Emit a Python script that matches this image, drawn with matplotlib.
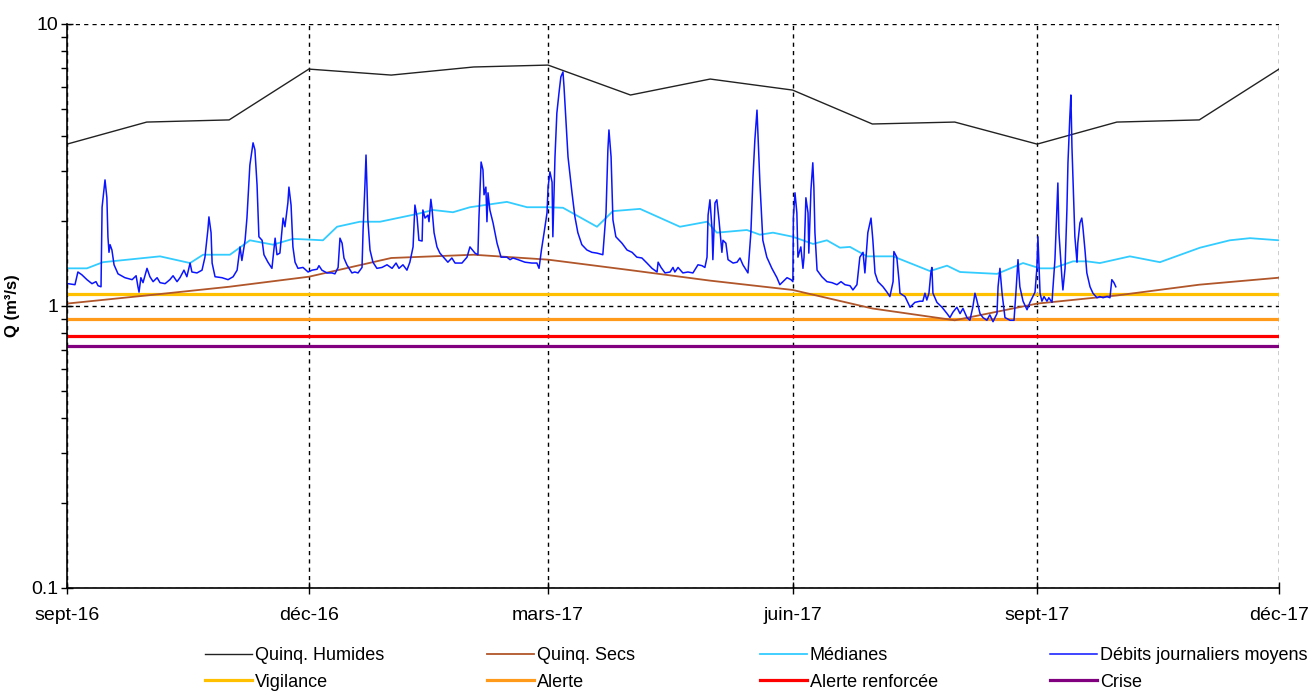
import matplotlib
matplotlib.use('Agg')
import matplotlib.pyplot as plt
import matplotlib.dates as mdates
from matplotlib.ticker import FixedLocator, FixedFormatter, LogLocator, NullFormatter
import numpy as np

plt.rcParams['font.family'] = ['Liberation Sans', 'DejaVu Sans']

# ---------------- data ----------------
start_date = '2016-09-01'
month_dates = ['2016-09-01', '2016-10-01', '2016-11-01', '2016-12-01', '2017-01-01',
               '2017-02-01', '2017-03-01', '2017-04-01', '2017-05-01', '2017-06-01',
               '2017-07-01', '2017-08-01', '2017-09-01', '2017-10-01', '2017-11-01',
               '2017-12-01']
quinq_humides = [3.75, 4.49, 4.57, 6.92, 6.59, 7.04, 7.15, 5.60, 6.38, 5.83,
                 4.42, 4.49, 3.75, 4.49, 4.57, 6.92]
quinq_secs = [1.02, 1.09, 1.17, 1.27, 1.48, 1.52, 1.46, 1.34, 1.23, 1.14,
              0.98, 0.89, 1.02, 1.09, 1.19, 1.26]

# Médianes: days since 2016-09-01, values (m3/s)
median_days = [0, 7.5, 13.5, 35.0, 46.3, 51.2, 61.3, 68.8, 77.5, 85.0, 91.0, 96.3,
               101.6, 110.2, 117.8, 131.7, 137.7, 145.2, 151.6, 165.5, 173.1, 181.0,
               186.6, 199.4, 205.4, 215.6, 230.6, 240.8, 244.5, 255.8, 260.7, 265.6,
               273.1, 280.7, 285.9, 290.8, 294.6, 301.0, 310.8, 324.7, 331.1, 336.0,
               349.9, 359.7, 366.1, 370.9, 378.5, 383.7, 388.6, 399.9, 411.2, 426.3,
               437.5, 445.1, 456.0]
median_q = [1.36, 1.36, 1.43, 1.50, 1.42, 1.52, 1.52, 1.71, 1.65, 1.73, 1.72, 1.71,
            1.91, 1.99, 1.99, 2.12, 2.19, 2.15, 2.24, 2.34, 2.24, 2.24,
            2.23, 1.91, 2.17, 2.21, 1.91, 1.99, 1.82, 1.86, 1.79, 1.82,
            1.76, 1.66, 1.71, 1.61, 1.62, 1.50, 1.50, 1.33, 1.39, 1.32,
            1.30, 1.42, 1.36, 1.36, 1.44, 1.44, 1.42, 1.50, 1.43, 1.61,
            1.71, 1.74, 1.71]

# Débits journaliers moyens: days since 2016-09-01, values (m3/s)
debit_days = [0.4, 3.0, 4.1, 5.6, 7.5, 9.4, 10.9, 11.7, 12.8, 13.2, 14.3, 15.0, 15.4,
              15.8, 16.2, 16.9, 17.7, 19.2, 21.8, 24.5, 26.0, 26.7, 27.1, 27.8, 28.6,
              30.1, 31.2, 32.4, 33.9, 35.0, 36.9, 38.7, 39.9, 41.4, 42.5, 44.0, 45.1,
              46.3, 47.0, 48.9, 50.8, 51.9, 53.0, 53.4, 54.2, 54.6, 55.7, 58.3, 60.6,
              62.5, 64.0, 65.1, 65.8, 67.0, 67.7, 68.8, 70.0, 70.7, 71.5, 72.2, 73.4,
              74.1, 75.6, 77.1, 78.3, 79.0, 80.1, 81.3, 82.0, 83.1, 83.5, 84.3, 85.0,
              85.8, 86.9, 88.8, 90.7, 92.2, 94.1, 94.8, 95.9, 97.8, 99.7, 100.8, 102.0,
              102.7, 103.5, 104.2, 105.3, 107.2, 108.3, 109.5, 111.0, 111.4, 112.1,
              112.5, 112.9, 113.2, 114.0, 115.1, 116.6, 118.5, 120.4, 122.3, 123.8,
              124.9, 126.4, 127.9, 129.0, 130.2, 130.9, 131.7, 132.4, 133.6, 133.9,
              134.7, 135.8, 136.2, 136.9, 137.3, 138.1, 139.2, 140.3, 142.2, 143.3,
              144.8, 146.0, 148.6, 150.5, 151.6, 153.5, 154.6, 155.0, 155.8, 156.5,
              156.9, 157.6, 158.0, 158.4, 159.1, 160.3, 161.8, 163.3, 165.5, 166.7,
              167.8, 169.7, 172.3, 174.9, 176.8, 177.6, 178.5, 179.5, 180.6, 181.0,
              181.7, 182.5, 182.8, 183.6, 184.3, 185.1, 185.8, 186.6, 187.0, 187.7,
              188.5, 190.0, 191.1, 192.2, 193.7, 195.6, 197.5, 199.4, 201.6, 202.8,
              203.5, 203.9, 204.7, 205.4, 206.5, 208.8, 210.7, 212.6, 214.4, 216.3,
              218.2, 220.1, 222.0, 222.4, 223.5, 225.0, 226.9, 228.0, 228.7, 229.9,
              231.7, 233.6, 235.5, 237.4, 238.9, 240.0, 240.8, 241.2, 241.9, 242.7,
              243.0, 243.8, 244.5, 245.3, 246.4, 246.8, 247.9, 248.7, 250.6, 252.1,
              253.2, 254.3, 256.2, 257.3, 258.1, 258.8, 259.6, 260.0, 260.7, 261.8,
              263.3, 265.2, 267.1, 268.2, 269.4, 270.9, 272.4, 273.1, 273.3, 273.9,
              274.6, 275.0, 276.1, 276.9, 277.3, 278.0, 278.8, 279.1, 279.9, 280.6,
              281.0, 281.4, 282.2, 284.0, 285.9, 287.8, 289.7, 291.2, 292.7, 294.6,
              295.7, 297.2, 298.3, 299.5, 300.2, 301.3, 302.5, 303.2, 304.0, 305.1,
              307.0, 308.5, 309.6, 310.8, 311.1, 312.2, 313.0, 313.4, 315.3, 317.2,
              319.0, 320.9, 322.0, 322.8, 323.5, 324.3, 325.0, 325.4, 325.8, 327.3,
              329.2, 331.1, 332.2, 333.3, 334.8, 336.0, 337.1, 338.6, 339.7, 340.8,
              341.6, 342.3, 343.5, 344.6, 346.1, 347.2, 348.4, 349.9, 350.3, 351.0,
              351.8, 352.9, 354.8, 356.3, 357.0, 357.8, 358.5, 359.7, 361.2, 362.3,
              363.4, 364.2, 364.9, 365.3, 366.1, 366.8, 367.6, 368.7, 369.4, 370.6,
              370.9, 371.7, 372.4, 372.8, 373.2, 374.3, 374.7, 375.5, 376.2, 376.6,
              377.3, 377.7, 378.1, 378.8, 379.2, 380.0, 380.3, 381.1, 381.8, 382.2,
              383.0, 383.7, 384.9, 386.0, 387.5, 388.6, 389.8, 391.3, 392.4, 393.1,
              393.9, 394.6]
debit_q = [1.20, 1.19, 1.32, 1.29, 1.24, 1.20, 1.22, 1.18, 1.17, 2.24, 2.80, 2.42, 1.76,
           1.55, 1.65, 1.58, 1.40, 1.30, 1.26, 1.24, 1.28, 1.17, 1.12, 1.26, 1.21,
           1.36, 1.27, 1.22, 1.26, 1.21, 1.20, 1.24, 1.28, 1.22, 1.26, 1.34, 1.27,
           1.42, 1.32, 1.31, 1.34, 1.49, 1.86, 2.07, 1.82, 1.42, 1.27, 1.26, 1.24,
           1.27, 1.34, 1.62, 1.45, 1.71, 2.05, 3.16, 3.79, 3.58, 2.69, 1.76, 1.71,
           1.52, 1.43, 1.36, 1.74, 1.52, 1.54, 2.05, 1.91, 2.32, 2.64, 2.28, 1.62,
           1.43, 1.36, 1.37, 1.32, 1.34, 1.35, 1.39, 1.34, 1.31, 1.31, 1.30, 1.37,
           1.74, 1.67, 1.48, 1.40, 1.31, 1.32, 1.31, 1.37, 1.86, 2.69,
           3.43, 2.58, 2.02, 1.58, 1.43, 1.36, 1.37, 1.40, 1.36, 1.42,
           1.36, 1.40, 1.34, 1.43, 1.62, 2.28, 2.07, 1.71, 1.70, 2.19,
           2.05, 2.10, 1.99, 2.39, 2.23, 1.82, 1.62, 1.54, 1.47, 1.43,
           1.48, 1.42, 1.42, 1.49, 1.62, 1.54, 1.52, 2.07, 3.24, 3.04,
           2.48, 2.64, 1.99, 2.52, 2.19, 1.97, 1.67, 1.49, 1.49, 1.46,
           1.48, 1.46, 1.43, 1.42, 1.42, 1.36, 1.58, 1.82, 2.14, 2.64,
           2.99, 2.75, 1.76, 3.38, 4.83, 5.69, 6.49, 6.76, 5.98, 4.57,
           3.38, 2.52, 2.07, 1.82, 1.65, 1.58, 1.55, 1.54, 1.52, 2.14,
           3.58, 4.21, 3.38, 2.02, 1.76, 1.67, 1.58, 1.55, 1.49, 1.48,
           1.42, 1.36, 1.32, 1.43, 1.37, 1.31, 1.32, 1.37, 1.32, 1.37,
           1.31, 1.32, 1.31, 1.40, 1.39, 1.37, 1.49, 2.10, 2.38, 1.86,
           1.46, 2.32, 2.38, 2.02, 1.55, 1.71, 1.67, 1.46, 1.42, 1.43,
           1.48, 1.40, 1.31, 1.82, 2.87, 3.88, 4.95, 3.98, 2.73, 1.71,
           1.49, 1.36, 1.26, 1.19, 1.22, 1.26, 1.24, 1.22, 2.07, 2.52,
           2.14, 1.49, 1.62, 1.36, 1.49, 2.42, 2.14, 1.54, 2.58, 3.22,
           2.64, 1.82, 1.34, 1.27, 1.22, 1.21, 1.19, 1.22, 1.19, 1.18,
           1.14, 1.19, 1.49, 1.55, 1.31, 1.82, 2.05, 1.71, 1.31, 1.22,
           1.17, 1.12, 1.08, 1.22, 1.56, 1.49, 1.24, 1.11, 1.08, 0.99,
           1.03, 1.04, 1.04, 1.11, 1.05, 1.11, 1.31, 1.37, 1.11, 1.03,
           0.99, 0.94, 0.91, 0.95, 0.99, 0.94, 0.98, 0.91, 0.89, 0.99,
           1.11, 1.05, 0.94, 0.91, 0.89, 0.93, 0.88, 0.94, 1.17, 1.36,
           1.11, 0.91, 0.89, 0.89, 1.11, 1.46, 1.17, 1.04, 0.97, 1.03,
           1.08, 1.12, 1.36, 1.76, 1.11, 1.04, 1.08, 1.04, 1.07, 1.03,
           1.14, 1.46, 2.19, 2.73, 1.82, 1.27, 1.14, 1.36, 2.19, 3.22,
           4.68, 5.60, 3.66, 2.32, 1.76, 1.43, 1.67, 1.97, 2.05, 1.91,
           1.58, 1.31, 1.17, 1.11, 1.07, 1.08, 1.07, 1.08, 1.07, 1.24,
           1.21, 1.17]

vigilance = 1.10
alerte = 0.90
alerte_renforcee = 0.78
crise = 0.72

tick_dates = ['2016-09-01', '2016-12-01', '2017-03-01', '2017-06-01', '2017-09-01', '2017-12-01']
tick_labels = ['sept-16', 'déc-16', 'mars-17', 'juin-17', 'sept-17', 'déc-17']
y_ticks = [0.1, 1, 10]
y_tick_labels = ['0.1', '1', '10']

# ---------------- figure ----------------
W, H = 1313, 691
fig = plt.figure(figsize=(W / 100, H / 100), dpi=100)
ax = fig.add_axes([67 / W, 1 - 588 / H, (1279 - 67) / W, (588 - 24) / H])

x0 = mdates.date2num(np.datetime64(start_date))
month_x = mdates.date2num(np.array(month_dates, dtype='datetime64[D]'))
median_x = x0 + np.array(median_days)
debit_x = x0 + np.array(debit_days)
tick_x = mdates.date2num(np.array(tick_dates, dtype='datetime64[D]'))

h_vig = ax.axhline(vigilance, color='#FFC000', lw=2.3, zorder=2, label='Vigilance')
h_al = ax.axhline(alerte, color='#FF9A1A', lw=2.3, zorder=2, label='Alerte')
h_ar = ax.axhline(alerte_renforcee, color='#FF0000', lw=2.3, zorder=2, label='Alerte renforcée')
h_cr = ax.axhline(crise, color='#800080', lw=2.3, zorder=2, label='Crise')

h_qh, = ax.plot(month_x, quinq_humides, color='#222222', lw=1.0, zorder=3, label='Quinq. Humides')
h_qs, = ax.plot(month_x, quinq_secs, color='#B0562A', lw=1.3, zorder=3, label='Quinq. Secs')
h_md, = ax.plot(median_x, median_q, color='#33CCFF', lw=1.3, zorder=3, label='Médianes')
h_db, = ax.plot(debit_x, debit_q, color='#0A14FF', lw=1.1, zorder=4, label='Débits journaliers moyens')

ax.set_yscale('log')
ax.set_ylim(0.1, 10)
ax.set_xlim(tick_x[0], tick_x[-1])

ax.yaxis.set_major_locator(FixedLocator(y_ticks))
ax.yaxis.set_major_formatter(FixedFormatter(y_tick_labels))
ax.yaxis.set_minor_locator(LogLocator(base=10, subs=range(2, 10)))
ax.yaxis.set_minor_formatter(NullFormatter())
ax.xaxis.set_major_locator(FixedLocator(tick_x))
ax.xaxis.set_major_formatter(FixedFormatter(tick_labels))

ax.tick_params(axis='y', which='major', direction='inout', length=8, width=1, labelsize=14, pad=2)
ax.tick_params(axis='y', which='minor', direction='out', length=4, width=1)
ax.tick_params(axis='x', which='major', direction='inout', length=8, width=1, labelsize=14, pad=10)

for s in ['top', 'right']:
    ax.spines[s].set_visible(False)
for s in ['left', 'bottom']:
    ax.spines[s].set_linewidth(1.2)
    ax.spines[s].set_zorder(5)

ax.grid(True, which='major', color='black', linestyle=(0, (3, 3)), linewidth=1.0, zorder=1)
ax.set_axisbelow(True)

ax.set_ylabel('Q (m³/s)', fontsize=12, fontweight='bold', labelpad=8)

# legend: four columns, two rows each
cols = [(h_qh, h_vig), (h_qs, h_al), (h_md, h_ar), (h_db, h_cr)]
col_x = [205, 487, 760, 1050]
for (a, b), cx in zip(cols, col_x):
    fig.legend(handles=[a, b], loc='center left', bbox_to_anchor=(cx / W, 1 - 669 / H),
               frameon=False, borderpad=0, borderaxespad=0, handlelength=2.6,
               handletextpad=0.15, labelspacing=0.52, fontsize=13)

fig.savefig('out.png', dpi=100)
